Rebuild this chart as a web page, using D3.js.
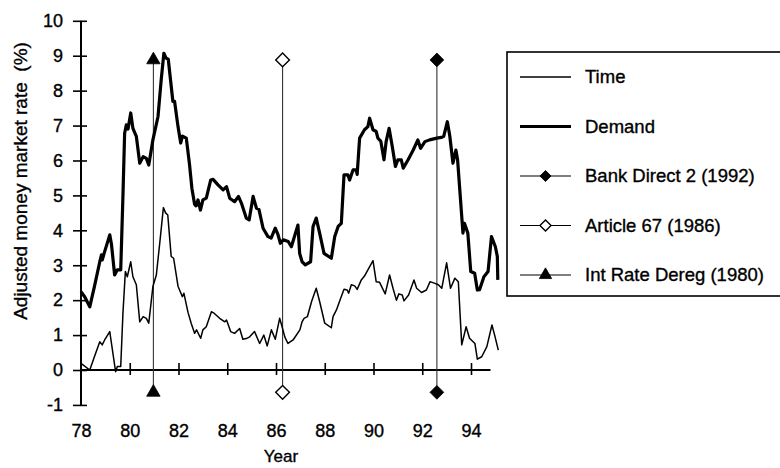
<!DOCTYPE html>
<html>
<head>
<meta charset="utf-8">
<script src="https://cdn.jsdelivr.net/npm/d3@7"></script>
<style>
  body { margin: 0; background: #fff; }
  text { font-family: "Liberation Sans", Arial, Helvetica, sans-serif; fill: #000; stroke: #000; stroke-width: 0.35px; }
</style>
</head>
<body>
<svg id="chart" width="780" height="468"></svg>
<script>
// Adjusted money market rate (%), demand-based measure
const demandYear = [78.00, 78.15, 78.36, 78.55, 78.77, 78.84, 78.87, 78.97, 79.18, 79.25, 79.38, 79.49, 79.63, 79.72, 79.79, 79.86, 79.93,
  80.04, 80.13, 80.27, 80.41, 80.55, 80.68, 80.78, 80.95, 81.16, 81.29, 81.40, 81.49, 81.58, 81.77, 81.84, 81.98,
  82.09, 82.16, 82.32, 82.45, 82.55, 82.66, 82.72, 82.80, 82.90, 83.00, 83.14, 83.32, 83.42, 83.62, 83.83, 83.97,
  84.10, 84.30, 84.46, 84.58, 84.78, 84.90, 85.06, 85.20, 85.30, 85.47, 85.67, 85.80, 85.97, 86.07, 86.18, 86.30,
  86.50, 86.63, 86.90, 86.97, 87.07, 87.20, 87.42, 87.52, 87.65, 87.79, 87.97, 88.27, 88.41, 88.55, 88.68, 88.79,
  88.95, 89.02, 89.16, 89.29, 89.33, 89.43, 89.63, 89.77, 89.84, 89.98, 90.11, 90.18, 90.30, 90.43, 90.52, 90.64,
  90.77, 90.90, 91.00, 91.14, 91.22, 91.42, 91.63, 91.82, 91.93, 92.11, 92.30, 92.60, 92.78, 92.88, 93.03, 93.13,
  93.26, 93.38, 93.45, 93.52, 93.67, 93.73, 93.87, 93.99, 94.15, 94.26, 94.35, 94.53, 94.70, 94.84, 95.00, 95.08, 95.10];
const demandRate = [2.24, 2.10, 1.81, 2.39, 3.10, 3.30, 3.15, 3.39, 3.87, 3.60, 2.72, 2.87, 2.87, 4.97, 6.78, 7.02, 6.90,
  7.36, 6.92, 6.69, 5.92, 6.11, 6.06, 5.87, 6.59, 7.26, 8.31, 9.07, 8.93, 8.90, 7.69, 7.69, 6.97,
  6.50, 6.70, 6.64, 5.90, 5.20, 4.75, 4.70, 4.87, 4.58, 4.87, 4.92, 5.44, 5.46, 5.30, 5.16, 5.25,
  4.92, 4.82, 4.97, 4.78, 4.35, 4.30, 4.97, 4.63, 4.60, 4.06, 3.82, 3.78, 4.06, 3.90, 3.63, 3.73,
  3.68, 3.53, 4.15, 3.34, 3.10, 3.01, 3.10, 4.11, 4.35, 3.92, 3.34, 3.20, 3.82, 4.11, 4.20, 5.59,
  5.59, 5.44, 5.73, 5.73, 5.60, 6.64, 6.88, 6.97, 7.21, 6.88, 6.83, 6.64, 6.55, 6.02, 6.55, 6.92,
  6.40, 5.83, 6.02, 6.02, 5.78, 6.02, 6.30, 6.59, 6.35, 6.54, 6.59, 6.64, 6.66, 6.69, 7.11, 6.70,
  5.92, 6.30, 6.02, 5.35, 3.92, 4.20, 3.92, 2.82, 2.77, 2.29, 2.30, 2.67, 2.82, 3.82, 3.53, 3.25, 2.58];

// Adjusted money market rate (%), time-based measure
const timeYear = [78.00, 78.36, 78.55, 78.77, 78.87, 78.97, 79.18, 79.42, 79.49, 79.63, 79.72, 79.82, 79.90,
  80.04, 80.13, 80.27, 80.41, 80.55, 80.68, 80.78, 80.95, 81.09, 81.23, 81.38, 81.47, 81.56, 81.70, 81.80, 81.98,
  82.16, 82.22, 82.39, 82.52, 82.66, 82.74, 82.91, 83.00, 83.14, 83.35, 83.47, 83.69, 83.90, 83.97,
  84.14, 84.30, 84.51, 84.64, 84.78, 84.92, 85.12, 85.33, 85.50, 85.64, 85.81, 85.97, 86.15, 86.25, 86.36,
  86.49, 86.70, 86.98, 87.07, 87.15, 87.29, 87.46, 87.65, 87.79, 88.00, 88.27, 88.34, 88.48, 88.65, 88.79,
  88.92, 88.98, 89.09, 89.23, 89.33, 89.50, 89.63, 89.77, 89.98, 90.11, 90.25, 90.48, 90.66, 90.80, 90.94,
  91.04, 91.18, 91.25, 91.44, 91.66, 91.77, 91.97, 92.17, 92.32, 92.52, 92.66, 92.80, 93.00, 93.16, 93.34,
  93.48, 93.62, 93.80, 93.94, 94.16, 94.26, 94.44, 94.65, 94.86, 94.97, 95.12];
const timeRate = [0.19, 0.00, 0.38, 0.81, 0.72, 0.86, 1.10, -0.05, 0.10, 0.10, 1.62, 2.82, 2.67,
  3.10, 2.67, 2.44, 1.38, 1.53, 1.48, 1.34, 2.39, 2.72, 3.63, 4.65, 4.50, 4.44, 3.25, 3.20, 2.40,
  2.10, 2.20, 1.65, 1.34, 1.05, 1.15, 0.91, 1.15, 1.24, 1.67, 1.62, 1.48, 1.38, 1.43,
  1.10, 1.05, 1.19, 0.88, 0.90, 0.95, 1.10, 0.76, 1.00, 0.69, 1.15, 0.88, 1.48, 1.24, 0.95,
  0.76, 0.86, 1.15, 1.38, 1.48, 1.53, 1.96, 2.34, 1.96, 1.34, 1.21, 1.53, 1.72, 2.05, 2.31,
  2.29, 2.20, 2.44, 2.41, 2.31, 2.58, 2.69, 2.87, 3.13, 2.53, 2.51, 2.18, 2.72, 2.34, 2.00,
  2.18, 2.15, 1.98, 2.15, 2.58, 2.34, 2.22, 2.29, 2.53, 2.48, 2.44, 2.34, 3.07, 2.34, 2.63,
  2.53, 0.72, 1.24, 0.91, 0.76, 0.31, 0.38, 0.67, 1.29, 1.00, 0.57];

// Policy events, drawn as vertical drop lines with end markers
const eventNames = ["Bank Direct 2 (1992)", "Article 67 (1986)", "Int Rate Dereg (1980)"];
const eventYear = [92.6, 86.27, 80.97];
const eventSymbol = ["diamondFilled", "diamondOpen", "triangle"];
const eventTop = 8.88;
const eventBottom = -0.64;

const xTicks = [78, 80, 82, 84, 86, 88, 90, 92, 94];
const yTicks = [-1, 0, 1, 2, 3, 4, 5, 6, 7, 8, 9, 10];
const xAxisEnd = 94.8;

const seriesNames = ["Time", "Demand"];
const xTitle = "Year";
const yTitle = "Adjusted money market rate  (%)";

const svg = d3.select("#chart");
const x = d3.scaleLinear().domain([78, 94]).range([81, 471]);
const y = d3.scaleLinear().domain([0, 10]).range([370, 20.8]);

// symbol path for each marker style
function markerPath(kind, big) {
  if (kind === "triangle") return d3.symbol(d3.symbolTriangle, big ? 78 : 66)();
  return d3.symbol(d3.symbolSquare, big ? 94 : 62)();
}
function drawMarker(g, kind, cx, cy, big) {
  const p = g.append("path")
    .attr("d", markerPath(kind, big))
    .attr("fill", kind === "diamondOpen" ? "#fff" : "#000")
    .attr("stroke", "#000")
    .attr("stroke-width", kind === "diamondOpen" ? 1.4 : 0.8);
  if (kind === "triangle") p.attr("transform", `translate(${cx},${cy})`);
  else p.attr("transform", `translate(${cx},${cy}) rotate(45)`);
}

const tickFont = '"Liberation Sans", Arial, sans-serif';

// y axis
const yAxis = d3.axisLeft(y).tickValues(yTicks).tickFormat(d => String(d))
  .tickSizeInner(8).tickSizeOuter(0).tickPadding(10);
const gy = svg.append("g").attr("transform", `translate(${x(78)},0)`).call(yAxis);
gy.select(".domain").remove();
gy.selectAll(".tick line").attr("x1", 6).attr("x2", -8).attr("stroke", "#000").attr("stroke-width", 1.6);
gy.selectAll(".tick text").attr("font-size", 18).attr("font-family", tickFont);
svg.append("line").attr("x1", x(78)).attr("x2", x(78)).attr("y1", y(-1)).attr("y2", y(10))
  .attr("stroke", "#000").attr("stroke-width", 2);

// x axis sits at rate 0
const xAxis = d3.axisBottom(x).tickValues(xTicks).tickFormat(d => String(d))
  .tickSizeInner(5).tickSizeOuter(0).tickPadding(49);
const gx = svg.append("g").attr("transform", `translate(0,${y(0)})`).call(xAxis);
gx.select(".domain").remove();
gx.selectAll(".tick line").attr("y1", -7).attr("y2", 5).attr("stroke", "#000").attr("stroke-width", 1.6)
  .filter(d => d === 78).remove();
gx.selectAll(".tick text").attr("font-size", 18).attr("font-family", tickFont);
svg.append("line").attr("x1", x(78)).attr("x2", x(xAxisEnd)).attr("y1", y(0)).attr("y2", y(0))
  .attr("stroke", "#000").attr("stroke-width", 2);

// axis titles
svg.append("text").attr("x", 281).attr("y", 462).attr("text-anchor", "middle")
  .attr("font-size", 17).text(xTitle);
svg.append("text").attr("transform", `translate(27,181) rotate(-90)`).attr("text-anchor", "middle")
  .attr("font-size", 19).style("white-space", "pre").text(yTitle);

// event drop lines
eventYear.forEach((yr) => {
  svg.append("line").attr("x1", x(yr)).attr("x2", x(yr)).attr("y1", y(eventTop)).attr("y2", y(eventBottom))
    .attr("stroke", "#333").attr("stroke-width", 1.1);
});

// series lines
const line = d3.line().x(d => x(d[0])).y(d => y(d[1]));
const timePts = timeYear.map((t, i) => [t, timeRate[i]]);
const demandPts = demandYear.map((t, i) => [t, demandRate[i]]);
svg.append("path").datum(timePts).attr("d", line).attr("fill", "none")
  .attr("stroke", "#000").attr("stroke-width", 1.5).attr("stroke-linejoin", "round");
svg.append("path").datum(demandPts).attr("d", line).attr("fill", "none")
  .attr("stroke", "#000").attr("stroke-width", 3.2).attr("stroke-linejoin", "round");

// event end markers
eventYear.forEach((yr, i) => {
  drawMarker(svg, eventSymbol[i], x(yr), y(eventTop), true);
  drawMarker(svg, eventSymbol[i], x(yr), y(eventBottom), true);
});

// legend
const legend = svg.append("g");
legend.append("rect").attr("x", 507).attr("y", 52).attr("width", 290).attr("height", 244)
  .attr("fill", "#fff").attr("stroke", "#000").attr("stroke-width", 1.6);
const legendItems = [
  { name: seriesNames[0], width: 1.4, marker: null },
  { name: seriesNames[1], width: 3.2, marker: null },
  { name: eventNames[0], width: 1.2, marker: eventSymbol[0] },
  { name: eventNames[1], width: 1.2, marker: eventSymbol[1] },
  { name: eventNames[2], width: 1.2, marker: eventSymbol[2] }
];
legendItems.forEach((it, i) => {
  const cy = 77 + i * 49.5;
  legend.append("line").attr("x1", 520).attr("x2", 571).attr("y1", cy).attr("y2", cy)
    .attr("stroke", "#000").attr("stroke-width", it.width);
  if (it.marker) drawMarker(legend, it.marker, 545.5, cy, false);
  legend.append("text").attr("x", 585).attr("y", cy).attr("dy", "0.35em")
    .attr("font-size", 18.5).text(it.name);
});
</script>
</body>
</html>
